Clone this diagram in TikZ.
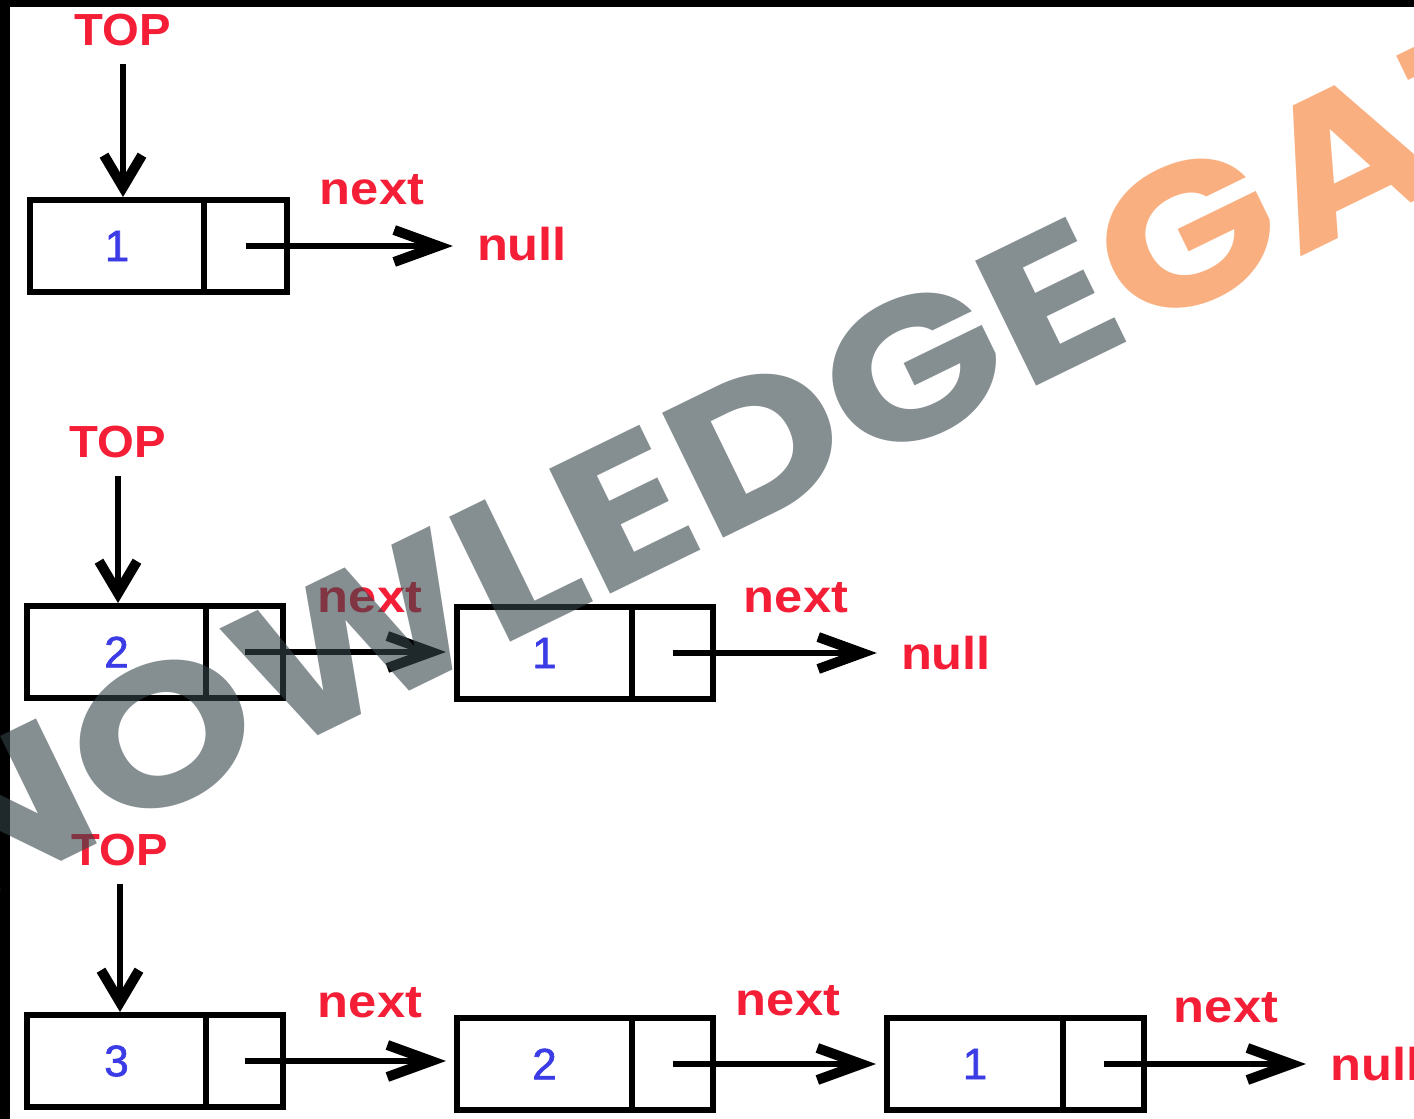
\documentclass[tikz,border=0pt]{standalone}
\usepackage{fontspec}
\setmainfont{Liberation Sans}
\newfontfamily\lblfont{Liberation Sans}[FakeStretch=1.1]
\newfontfamily\topfont{Liberation Sans}[FakeStretch=1.05]
\newfontfamily\numfont{Liberation Sans}[FakeBold=1.5]
\newfontfamily\wmfont{Poppins}[FakeStretch=1.18]
\usetikzlibrary{arrows.meta}
\definecolor{lblred}{RGB}{245,30,55}
\definecolor{numblue}{RGB}{60,60,230}
\definecolor{wmgray}{RGB}{53,67,73}
\definecolor{wmorange}{RGB}{245,123,43}
\begin{document}
\begin{tikzpicture}[x=1pt,y=-1pt,
  cell/.style={draw=black, line width=6pt, inner sep=0pt, minimum height=92pt},
  datac/.style={cell, text=numblue, font=\numfont\fontsize{44}{50}\selectfont},
  toplbl/.style={text=lblred, font=\topfont\fontsize{45}{50}\selectfont\bfseries, inner sep=0pt},
  nextlbl/.style={text=lblred, font=\lblfont\fontsize{46}{50}\selectfont\bfseries, inner sep=0pt},
  ptr/.style={line width=6pt, -{Straight Barb[length=44pt,width=32pt,line width=10pt]}},
  downptr/.style={line width=6pt, shorten <=18pt, -{Straight Barb[length=32pt,width=38pt,line width=10pt]}},
  wm/.style={font=\wmfont\fontsize{198}{210}\selectfont\bfseries, inner sep=0pt, text opacity=0.6, rotate=26}]
\useasboundingbox (0,0) rectangle (1414,1119);
\clip (0,0) rectangle (1414,1119);
\fill[white] (0,0) rectangle (1414,1119);
\fill[black] (0,0) rectangle (1414,7);
\fill[black] (0,0) rectangle (10,1119);

% Row 1
\node[toplbl] (top1) at (123,30) {TOP};
\node[datac, minimum width=174pt] (d1) at (117,246) {1};
\node[cell, minimum width=83pt] (p1) at (245.5,246) {};
\node[nextlbl] (nx1) at (372,190) {next};
\node[nextlbl] (nl1) at (522,244) {null};
\draw[downptr] (top1.south) -- (top1.south |- d1.north);
\draw[ptr, shorten >=24pt] (p1.center) -- (p1.center -| nl1.west);

% Row 2
\node[toplbl] (top2) at (118,442) {TOP};
\node[datac, minimum width=179pt] (d2a) at (116.5,652) {2};
\node[cell, minimum width=77pt] (p2a) at (244.5,652) {};
\node[datac, minimum width=175pt] (d2b) at (544.5,653) {1};
\node[cell, minimum width=81pt] (p2b) at (672.5,653) {};
\node[nextlbl] (nx2a) at (370,598) {next};
\node[nextlbl] (nx2b) at (796,598) {next};
\node[nextlbl] (nl2) at (946,653) {null};
\draw[downptr] (top2.south) -- (top2.south |- d2a.north);
\draw[ptr, shorten >=8pt] (p2a.center) -- (p2a.center -| d2b.west);
\draw[ptr, shorten >=24pt] (p2b.center) -- (p2b.center -| nl2.west);

% Row 3
\node[toplbl] (top3) at (120,850) {TOP};
\node[datac, minimum width=179pt] (d3a) at (116.5,1061) {3};
\node[cell, minimum width=77pt] (p3a) at (244.5,1061) {};
\node[datac, minimum width=175pt] (d3b) at (544.5,1064) {2};
\node[cell, minimum width=81pt] (p3b) at (672.5,1064) {};
\node[datac, minimum width=176pt] (d3c) at (975,1064) {1};
\node[cell, minimum width=81pt] (p3c) at (1103.5,1064) {};
\node[nextlbl] (nx3a) at (370,1003) {next};
\node[nextlbl] (nx3b) at (788,1001) {next};
\node[nextlbl] (nx3c) at (1226,1008) {next};
\node[nextlbl, anchor=west] (nl3) at (1330,1064) {null};
\draw[downptr] (top3.south) -- (top3.south |- d3a.north);
\draw[ptr, shorten >=8pt] (p3a.center) -- (p3a.center -| d3b.west);
\draw[ptr, shorten >=8pt] (p3b.center) -- (p3b.center -| d3c.west);
\draw[ptr, shorten >=24pt] (p3c.center) -- (p3c.center -| nl3.west);

% Watermark
\coordinate (wmpt) at (497,649);
\node[wm, anchor=base east, text=wmgray] (wmA) at (wmpt) {KNOW};
\node[wm, anchor=base west] (wmB) at (wmpt) {\color{wmgray}LEDGE\color{wmorange}GATE};
\end{tikzpicture}
\end{document}
